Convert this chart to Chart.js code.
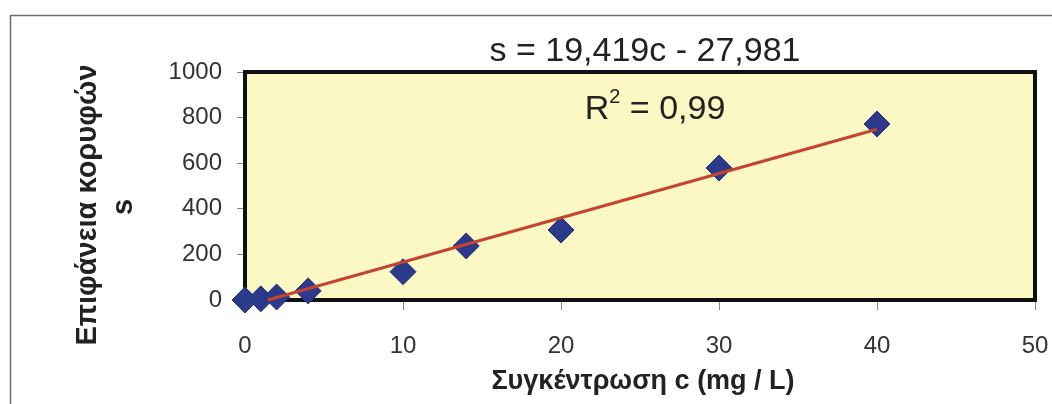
<!DOCTYPE html>
<html>
<head>
<meta charset="utf-8">
<script src="https://cdn.jsdelivr.net/npm/chart.js@4.4.1/dist/chart.umd.min.js"></script>
<style>
  html, body { margin: 0; padding: 0; background: #fff; }
  #wrap { width: 1052px; height: 404px; }
</style>
</head>
<body>
<div id="wrap"><canvas id="calib" width="1052" height="404"></canvas></div>
<script>
const concentrations = [0, 1, 2, 4, 10, 14, 20, 30, 40];
const peakAreas = [0, 5, 13, 40, 124, 237, 307, 579, 772];

// trend line end points (Excel clips it at s = 0)
const trendC = [1.44, 40];
const trendS = [0, 749];

const equationText = "s = 19,419c - 27,981";
const r2Value = "0,99";
const xTitle = "Συγκέντρωση c (mg / L)";
const yTitle = ["Επιφάνεια κορυφών", "s"];

const points = concentrations.map((c, i) => ({ x: c, y: peakAreas[i] }));
const trend = trendC.map((c, i) => ({ x: c, y: trendS[i] }));

const FONT = "'Liberation Sans', Arial, sans-serif";

const decor = {
  id: "decor",
  beforeDraw(chart) {
    const ctx = chart.ctx, a = chart.chartArea;
    ctx.save();
    ctx.fillStyle = "#fff";
    ctx.fillRect(0, 0, chart.width, chart.height);
    // outer frame of the scanned figure
    ctx.strokeStyle = "#6e6e6e";
    ctx.lineWidth = 1.5;
    ctx.beginPath();
    ctx.moveTo(10.5, chart.height + 5);
    ctx.lineTo(10.5, 15.5);
    ctx.lineTo(chart.width + 5, 15.5);
    ctx.stroke();
    ctx.fillStyle = "#fbf8c4";
    ctx.fillRect(a.left, a.top, a.right - a.left, a.bottom - a.top);
    ctx.restore();
  },
  beforeDatasetsDraw(chart) {
    const ctx = chart.ctx, a = chart.chartArea;
    ctx.save();
    ctx.strokeStyle = "#111";
    ctx.lineWidth = 4;
    ctx.strokeRect(a.left, a.top, a.right - a.left, a.bottom - a.top);
    ctx.restore();
  },
  afterDraw(chart) {
    const ctx = chart.ctx;
    ctx.save();
    ctx.fillStyle = "#222";
    ctx.textAlign = "center";
    ctx.textBaseline = "middle";
    ctx.font = "34px " + FONT;
    ctx.fillText(equationText, 645, 52);

    // R² with superscript
    const base = "R";
    const rest = " = " + r2Value;
    const wR = ctx.measureText(base).width;
    ctx.font = "20px " + FONT;
    const wSup = ctx.measureText("2").width;
    ctx.font = "34px " + FONT;
    const wRest = ctx.measureText(rest).width;
    let x0 = 655 - (wR + wSup + wRest) / 2;
    ctx.textAlign = "left";
    ctx.fillText(base, x0, 110);
    ctx.font = "20px " + FONT;
    ctx.fillText("2", x0 + wR, 97);
    ctx.font = "34px " + FONT;
    ctx.fillText(rest, x0 + wR + wSup, 110);

    // axis titles
    ctx.textAlign = "center";
    ctx.font = "bold 27px " + FONT;
    ctx.fillText(xTitle, 643, 382);
    ctx.font = "bold 29px " + FONT;
    ctx.save();
    ctx.translate(88, 205);
    ctx.rotate(-Math.PI / 2);
    ctx.fillText(yTitle[0], 0, 0);
    ctx.restore();
    ctx.save();
    ctx.translate(124, 207);
    ctx.rotate(-Math.PI / 2);
    ctx.fillText(yTitle[1], 0, 0);
    ctx.restore();
    ctx.restore();
  }
};

new Chart(document.getElementById("calib"), {
  type: "scatter",
  data: {
    datasets: [
      {
        type: "line",
        data: trend,
        borderColor: "#c4442d",
        borderWidth: 3,
        pointRadius: 0,
        fill: false,
        order: 0,
        clip: false
      },
      {
        data: points,
        pointStyle: "rectRot",
        pointRadius: 13,
        pointBackgroundColor: "#2c3a8c",
        pointBorderColor: "#27337a",
        pointBorderWidth: 1,
        order: 1,
        clip: false
      }
    ]
  },
  options: {
    responsive: false,
    animation: false,
    layout: { padding: { left: 0, top: 72, right: 17, bottom: 0 } },
    plugins: {
      legend: { display: false },
      title: { display: false },
      tooltip: { enabled: false }
    },
    scales: {
      x: {
        type: "linear",
        min: 0,
        max: 50,
        ticks: {
          stepSize: 10,
          color: "#333",
          padding: 22,
          font: { family: FONT, size: 24 },
          callback: v => String(v)
        },
        grid: { drawOnChartArea: false, drawTicks: true, tickLength: 10, color: "#888" },
        border: { display: false },
        afterFit(scale) {
          scale.height = 104;
          scale.paddingLeft = 0;
          scale.paddingRight = 0;
        }
      },
      y: {
        min: 0,
        max: 1000,
        ticks: {
          stepSize: 200,
          color: "#333",
          padding: 15,
          font: { family: FONT, size: 24 },
          callback: v => String(v)
        },
        grid: { drawOnChartArea: false, drawTicks: true, tickLength: 8, color: "#888" },
        border: { display: false },
        afterFit(scale) {
          scale.width = 245;
          scale.paddingTop = 0;
          scale.paddingBottom = 0;
        }
      }
    }
  },
  plugins: [decor]
});
</script>
</body>
</html>
